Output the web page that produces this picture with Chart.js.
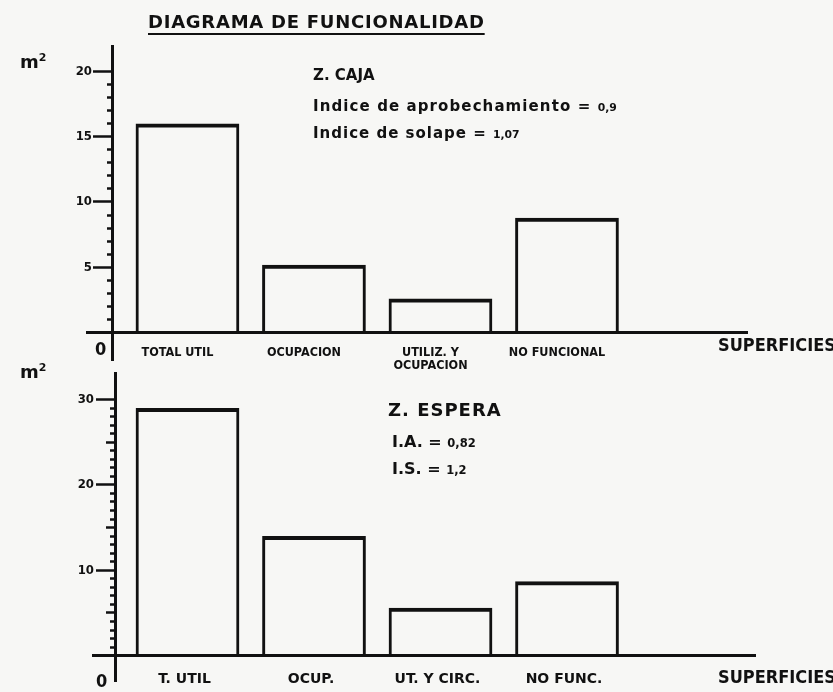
<!DOCTYPE html>
<html>
<head>
<meta charset="utf-8">
<script src="https://cdn.jsdelivr.net/npm/chart.js@4/dist/chart.umd.min.js"></script>
<style>
  html, body { margin: 0; padding: 0; }
  body {
    width: 833px; height: 692px; position: relative; overflow: hidden;
    background: #f7f7f5; color: #111;
    font-family: 'DejaVu Sans', sans-serif;
  }
  canvas { position: absolute; left: 0; }
  #cajaCanvas { top: 0; }
  #esperaCanvas { top: 360px; }
  .txt { position: absolute; white-space: nowrap; font-weight: bold; line-height: 1; }
  .cond { font-family: 'DejaVu Sans Condensed', 'DejaVu Sans', sans-serif; }
  .small { font-size: 0.72em; letter-spacing: 0; }
</style>
</head>
<body>
<canvas id="cajaCanvas" width="833" height="380"></canvas>
<canvas id="esperaCanvas" width="833" height="332"></canvas>

<div class="txt" style="left:148px; top:13px; font-size:18px; letter-spacing:0.75px; text-decoration: underline; text-decoration-thickness: 2px; text-underline-offset: 5px;">DIAGRAMA DE FUNCIONALIDAD</div>

<div class="txt" style="left:20px; top:52px; font-size:18px;">m<sup style="font-size:11px;">2</sup></div>
<div class="txt" style="left:313px; top:68px; font-size:15px;">Z. CAJA</div>
<div class="txt" style="left:313px; top:99px; font-size:15px; letter-spacing:1.1px;">Indice de aprobechamiento = <span class="small">0,9</span></div>
<div class="txt" style="left:313px; top:126px; font-size:15px; letter-spacing:1px;">Indice de solape = <span class="small">1,07</span></div>
<div class="txt cond" style="left:95px; top:340px; font-size:18px;">0</div>
<div class="txt cond" style="left:718px; top:336px; font-size:18px;">SUPERFICIES</div>

<div class="txt" style="left:20px; top:362px; font-size:18px;">m<sup style="font-size:11px;">2</sup></div>
<div class="txt" style="left:388px; top:401px; font-size:18px; letter-spacing:1px;">Z. ESPERA</div>
<div class="txt" style="left:392px; top:434px; font-size:16px;">I.A. = <span class="small">0,82</span></div>
<div class="txt" style="left:392px; top:461px; font-size:16px;">I.S. = <span class="small">1,2</span></div>
<div class="txt cond" style="left:96px; top:672px; font-size:18px;">0</div>
<div class="txt cond" style="left:718px; top:668px; font-size:18px;">SUPERFICIES</div>

<script>
// Zona caja
const cajaCategories = ['TOTAL UTIL', 'OCUPACION', ['UTILIZ. Y', 'OCUPACION'], 'NO FUNCIONAL'];
const cajaValues = [16, 5.2, 2.6, 8.8];
const cajaTickLabels = [5, 10, 15, 20];

// Zona espera
const esperaCategories = ['T. UTIL', 'OCUP.', 'UT. Y CIRC.', 'NO FUNC.'];
const esperaValues = [29, 14, 5.6, 8.7];
const esperaTickLabels = [10, 20, 30];
const esperaHalfTicks = [5, 15, 25];

const INK = '#111';
const FONT = "'DejaVu Sans Condensed', 'DejaVu Sans', sans-serif";

// Y labels drawn to the left of the long tick marks (the axis sits inside the plot area)
const yTickLabels = {
    id: 'yTickLabels',
    afterDraw(chart, args, opts) {
        const { ctx, scales: { x, y } } = chart;
        const axisX = x.getPixelForValue(opts.axisAt);
        ctx.save();
        ctx.font = `bold 13px ${FONT}`;
        ctx.fillStyle = INK;
        ctx.textAlign = 'right';
        ctx.textBaseline = 'middle';
        opts.values.forEach(v => ctx.fillText(String(v), axisX - 21, y.getPixelForValue(v)));
        ctx.restore();
    }
};

function buildChart(canvasId, categories, values, tickLabels, halfTicks, cfg) {
    const points = values.map((v, i) => ({ x: i, y: v }));
    const topTick = Math.max(...tickLabels);

    return new Chart(document.getElementById(canvasId), {
        type: 'bar',
        data: {
            datasets: [{
                data: points,
                backgroundColor: 'rgba(0,0,0,0)',
                borderColor: INK,
                borderWidth: { top: 4, left: 3, right: 3, bottom: 0 },
                barPercentage: 0.82,
                categoryPercentage: 1
            }]
        },
        plugins: [yTickLabels],
        options: {
            responsive: false,
            animation: false,
            layout: { padding: cfg.padding },
            plugins: {
                legend: { display: false },
                tooltip: { enabled: false },
                yTickLabels: { values: tickLabels, axisAt: cfg.yAxisAt }
            },
            scales: {
                x: {
                    type: 'linear',
                    offset: false,
                    min: cfg.xMin,
                    max: cfg.xMax,
                    position: { y: 0 },
                    grid: { display: false, offset: false },
                    border: { display: true, color: INK, width: 3 },
                    ticks: {
                        stepSize: 1,
                        includeBounds: false,
                        autoSkip: false,
                        maxRotation: 0,
                        padding: cfg.labelPad,
                        labelOffset: cfg.labelShift,
                        color: INK,
                        font: { family: cfg.labelFont, size: cfg.labelSize, weight: 'bold', lineHeight: 1.1 },
                        callback: v => categories[v] ?? ''
                    }
                },
                y: {
                    type: 'linear',
                    min: cfg.yMin,
                    max: cfg.yMax,
                    position: { x: cfg.yAxisAt },
                    border: { display: true, color: INK, width: 3 },
                    grid: {
                        drawOnChartArea: false,
                        drawTicks: true,
                        tickLength: 18,
                        tickWidth: 2.5,
                        tickColor: ctx => {
                            const v = ctx.tick ? ctx.tick.value : 0;
                            return (v <= 0 || v > topTick) ? 'rgba(0,0,0,0)' : INK;
                        },
                        tickBorderDash: ctx => {
                            const v = ctx.tick ? ctx.tick.value : 0;
                            if (tickLabels.includes(v)) return [];
                            if (halfTicks.includes(v)) return [8, 40];
                            return [4, 40];
                        }
                    },
                    ticks: {
                        stepSize: 1,
                        includeBounds: false,
                        autoSkip: false,
                        callback: () => ''
                    }
                }
            }
        }
    });
}

buildChart('cajaCanvas', cajaCategories, cajaValues, cajaTickLabels, [], {
    padding: { left: 87, right: 86, top: 46, bottom: 20 },
    xMin: -0.794, xMax: 4.423,
    yMin: -2.1, yMax: 21.94,
    yAxisAt: -0.589,
    labelFont: FONT,
    labelSize: 12.5,
    labelPad: 5,
    labelShift: -10
});

buildChart('esperaCanvas', esperaCategories, esperaValues, esperaTickLabels, esperaHalfTicks, {
    padding: { left: 93, right: 78, top: 13, bottom: 0 },
    xMin: -0.747, xMax: 4.486,
    yMin: -3.06, yMax: 33.1,
    yAxisAt: -0.573,
    labelFont: "'DejaVu Sans', sans-serif",
    labelSize: 14,
    labelPad: 8,
    labelShift: -3
});
</script>
</body>
</html>
